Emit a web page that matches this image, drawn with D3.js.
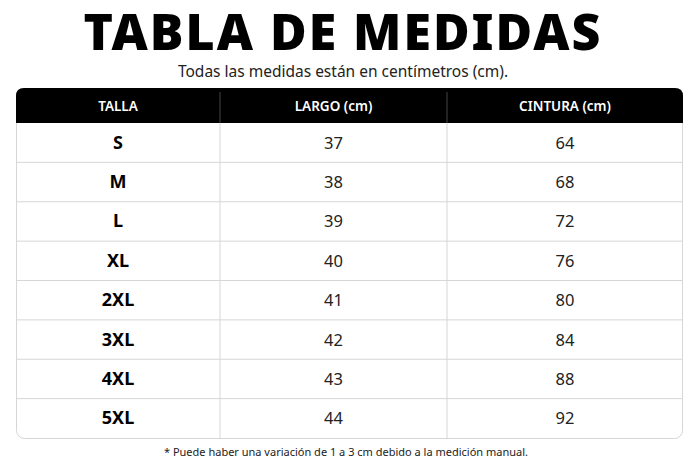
<!DOCTYPE html>
<html><head><meta charset="utf-8">
<script src="https://cdn.jsdelivr.net/npm/d3@7"></script>
<style>body{margin:0;background:#fff}</style></head>
<body><svg id="c" width="700" height="467"></svg>
<script>
const sizes=["S","M","L","XL","2XL","3XL","4XL","5XL"];
const largo=[37,38,39,40,41,42,43,44];
const cintura=[64,68,72,76,80,84,88,92];
const headers=["TALLA","LARGO (cm)","CINTURA (cm)"];
(function(){
const svg=d3.select("#c");
const F="'Noto Sans','Open Sans',sans-serif";
svg.append("text").attr("x",343).attr("y",50).attr("text-anchor","middle")
 .attr("font-family",F).attr("font-weight",900).attr("font-size",50).attr("letter-spacing",2).text("TABLA DE MEDIDAS");
svg.append("text").attr("x",343).attr("y",77).attr("text-anchor","middle")
 .attr("font-family",F).attr("font-size",15.5).attr("fill","#222").text("Todas las medidas están en centímetros (cm).");
const x0=16,x1=683,T=88,hh=35,B=438;
const colX=[16,220,447,683];
const y=d3.scaleBand().domain(sizes).range([T+hh,B]);
const rw=y.bandwidth();
svg.append("rect").attr("x",x0+.5).attr("y",T+.5).attr("width",x1-x0-1).attr("height",B-T).attr("rx",8)
 .attr("fill","#fff").attr("stroke","#d6d6d6");
svg.append("path").attr("d",`M${x0},${T+hh}V${T+8}Q${x0},${T} ${x0+8},${T}H${x1-8}Q${x1},${T} ${x1},${T+8}V${T+hh}Z`).attr("fill","#000");
headers.forEach((h,i)=>svg.append("text").attr("x",(colX[i]+colX[i+1])/2).attr("y",T+hh/2+5).attr("text-anchor","middle")
 .attr("font-family",F).attr("font-weight",600).attr("font-size",13.5).attr("fill","#fff").text(h));
[colX[1],colX[2]].forEach(cx=>svg.append("line").attr("x1",cx).attr("x2",cx).attr("y1",T+4).attr("y2",T+hh).attr("stroke","#444"));
sizes.slice(1).forEach(s=>svg.append("line").attr("x1",x0).attr("x2",x1).attr("y1",y(s)).attr("y2",y(s)).attr("stroke","#d6d6d6"));
[colX[1],colX[2]].forEach(cx=>svg.append("line").attr("x1",cx).attr("x2",cx).attr("y1",T+hh).attr("y2",B).attr("stroke","#d6d6d6"));
const g=svg.selectAll("g.r").data(sizes).join("g").attr("transform",d=>`translate(0,${y(d)+rw/2+6})`);
g.append("text").attr("x",(colX[0]+colX[1])/2).attr("text-anchor","middle").attr("font-family",F).attr("font-weight",700).attr("font-size",18).text(d=>d);
g.append("text").attr("x",(colX[1]+colX[2])/2).attr("text-anchor","middle").attr("font-family",F).attr("font-size",16.5).attr("fill","#222").text((d,i)=>largo[i]);
g.append("text").attr("x",(colX[2]+colX[3])/2).attr("text-anchor","middle").attr("font-family",F).attr("font-size",16.5).attr("fill","#222").text((d,i)=>cintura[i]);
svg.append("text").attr("x",346).attr("y",456).attr("text-anchor","middle").attr("font-family",F).attr("font-size",11).attr("fill","#222")
 .text("* Puede haber una variación de 1 a 3 cm debido a la medición manual.");
})();
</script></body></html>
